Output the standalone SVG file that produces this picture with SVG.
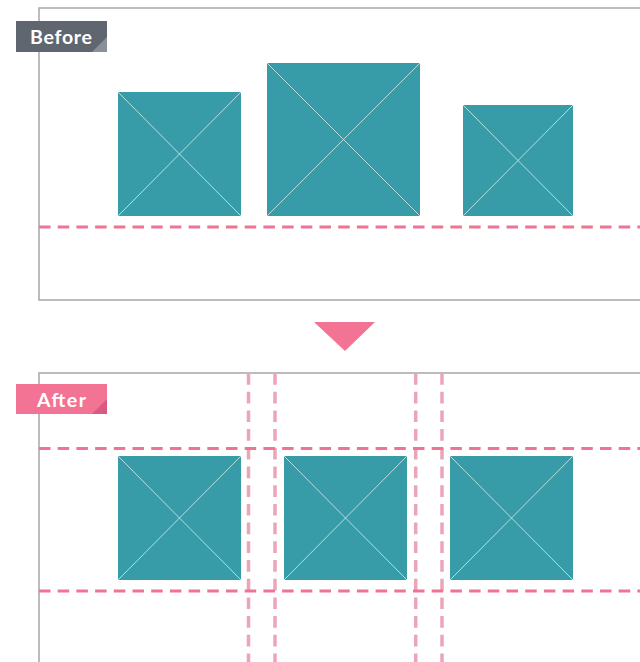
<svg xmlns="http://www.w3.org/2000/svg" width="640" height="662" viewBox="0 0 640 662">
<style>
.frame{fill:#fff;stroke:#a7a7a7;stroke-width:1.5}
.img{fill:#389ca8}
.x{stroke:#d6eef0;stroke-width:0.8}
.hd{stroke:#ef7393;stroke-width:3;stroke-dasharray:11.5 7.2;fill:none}
.vd{stroke:#eca4b8;stroke-width:3.5;stroke-dasharray:11.7 7;fill:none}
.lbl{font-family:"Lato","Open Sans",sans-serif;font-weight:bold;font-size:19.5px;fill:#fff}
</style>
<rect width="640" height="662" fill="#fff"/>
<g id="before-panel">
<rect class="frame" x="39" y="8" width="620" height="292"/>
</g>
<g id="before-label">
<rect x="16" y="21" width="91" height="31" fill="#5f666f"/>
<polygon points="107,37 107,52 92,52" fill="#8a9098"/>
<text class="lbl" x="30" y="44" textLength="62" lengthAdjust="spacing">Before</text>
</g>
<g id="before-img1">
<rect class="img" x="118" y="92" width="123" height="124"/>
<path class="x" d="M118,92L241,216M241,92L118,216"/>
</g>
<g id="before-img2">
<rect class="img" x="267" y="63" width="153" height="153"/>
<path class="x" d="M267,63L420,216M420,63L267,216"/>
</g>
<g id="before-img3">
<rect class="img" x="463" y="105" width="110" height="111"/>
<path class="x" d="M463,105L573,216M573,105L463,216"/>
</g>
<g id="arrow">
<polygon points="314,322 375,322 345,351" fill="#f27393"/>
</g>
<g id="after-panel">
<rect class="frame" x="39" y="373" width="620" height="300"/>
</g>
<g id="after-label">
<rect x="16" y="384" width="91" height="30" fill="#f27393"/>
<polygon points="107,399 107,414 92,414" fill="#d95a80"/>
<text class="lbl" x="37" y="406.5" textLength="49" lengthAdjust="spacing">After</text>
</g>
<g id="after-img1">
<rect class="img" x="118" y="456" width="123" height="124"/>
<path class="x" d="M118,456L241,580M241,456L118,580"/>
</g>
<g id="after-img2">
<rect class="img" x="284" y="456" width="123" height="124"/>
<path class="x" d="M284,456L407,580M407,456L284,580"/>
</g>
<g id="after-img3">
<rect class="img" x="450" y="456" width="123" height="124"/>
<path class="x" d="M450,456L573,580M573,456L450,580"/>
</g>
<g id="guides">
<path class="hd" d="M39,227H640"/>
<path class="vd" d="M248.5,373V662M275,373V662M415.7,373V662M442,373V662"/>
<path class="hd" d="M39,448.5H640M39,591H640"/>
</g>
</svg>
